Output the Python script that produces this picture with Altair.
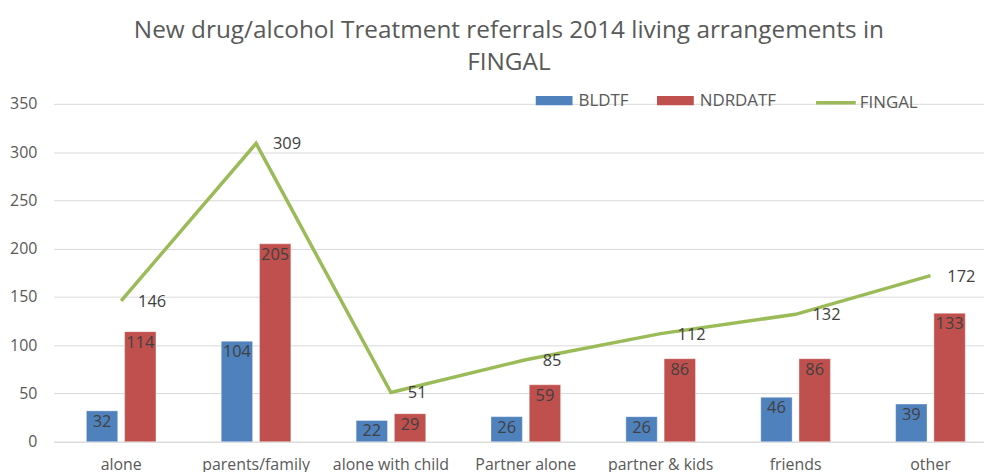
import altair as alt
import pandas as pd

categories = ["alone", "parents/family", "alone with child", "Partner alone",
              "partner & kids", "friends", "other"]
bldtf = [32, 104, 22, 26, 26, 46, 39]
ndrdatf = [114, 205, 29, 59, 86, 86, 133]
fingal = [146, 309, 51, 85, 112, 132, 172]
y_ticks = [0, 50, 100, 150, 200, 250, 300, 350]

bar_series = ["BLDTF", "NDRDATF"]
bar_colors = ["#4F81BD", "#C0504D"]
line_color = "#9BBB59"

rows = []
for c, b, n in zip(categories, bldtf, ndrdatf):
    rows.append({"category": c, "series": "BLDTF", "value": b})
    rows.append({"category": c, "series": "NDRDATF", "value": n})
bars_df = pd.DataFrame(rows)
line_df = pd.DataFrame({"category": categories, "series": "FINGAL", "value": fingal})

FONT = "Open Sans"

x_enc = alt.X("category:N", sort=categories,
              scale=alt.Scale(range=[0, 950], paddingInner=0.484, paddingOuter=0.242),
              axis=alt.Axis(title=None, labelAngle=0, ticks=False, domainColor="#D9D9D9",
                            labelFontSize=16, labelColor="#595959", labelPadding=15,
                            labelFont=FONT, grid=False))
y_enc = alt.Y("value:Q", scale=alt.Scale(domain=[0, 350], nice=False),
              axis=alt.Axis(title=None, values=y_ticks, domain=False, ticks=False,
                            labelFontSize=16, labelColor="#595959", labelPadding=17,
                            labelFont=FONT, gridColor="#D9D9D9", gridWidth=1))

bar_path = "M-1,-0.25H1V0.25H-1Z"

bars = alt.Chart(bars_df).mark_bar(stroke="#FFFFFF", strokeOpacity=0.35, strokeWidth=1).encode(
    x=x_enc,
    y=y_enc,
    xOffset=alt.XOffset("series:N", sort=bar_series,
                        scale=alt.Scale(paddingInner=0.18, paddingOuter=0)),
    fill=alt.Fill("series:N", sort=bar_series,
                  scale=alt.Scale(domain=bar_series, range=bar_colors),
                  legend=alt.Legend(title=None, orient="none", legendX=485, legendY=-22,
                                    direction="horizontal", symbolType=bar_path,
                                    symbolSize=1369, symbolStrokeWidth=0,
                                    labelFontSize=17, labelColor="#595959", labelFont=FONT,
                                    labelOffset=6, columnPadding=28)),
)

bar_labels = alt.Chart(bars_df).mark_text(baseline="top", dy=3, fontSize=16.5, font=FONT,
                                          color="#404040").encode(
    x=alt.X("category:N", sort=categories),
    y=alt.Y("value:Q"),
    xOffset=alt.XOffset("series:N", sort=bar_series),
    text=alt.Text("value:Q"),
)

line = alt.Chart(line_df).mark_line(strokeWidth=3.5).encode(
    x=alt.X("category:N", sort=categories),
    y=alt.Y("value:Q"),
    stroke=alt.Stroke("series:N", scale=alt.Scale(domain=["FINGAL"], range=[line_color]),
                      legend=alt.Legend(title=None, orient="none", legendX=765, legendY=-23,
                                        symbolType="stroke", symbolSize=1600,
                                        symbolStrokeWidth=3.5, labelFontSize=17,
                                        labelColor="#595959", labelFont=FONT, labelOffset=2)),
)

line_labels = alt.Chart(line_df).mark_text(align="left", baseline="middle", dx=17, dy=1,
                                           fontSize=16.5, font=FONT, color="#404040").encode(
    x=alt.X("category:N", sort=categories),
    y=alt.Y("value:Q"),
    text=alt.Text("value:Q"),
)

chart = alt.layer(bars, bar_labels, line, line_labels).resolve_scale(
    fill="independent", stroke="independent"
).properties(
    width=936,
    height=340,
    padding={"left": 46, "top": 95, "right": 0, "bottom": 30},
    autosize=alt.AutoSizeParams(type="none"),
    title=alt.TitleParams(
        text=["New drug/alcohol Treatment referrals 2014 living arrangements in", "FINGAL"],
        fontSize=24.5, font=FONT, color="#595959", fontWeight="normal",
        lineHeight=32, anchor="middle", dx=-10, offset=6,
    ),
).configure_view(stroke=None)

chart.save("out.html", embed_options={"renderer": "svg", "actions": False})
